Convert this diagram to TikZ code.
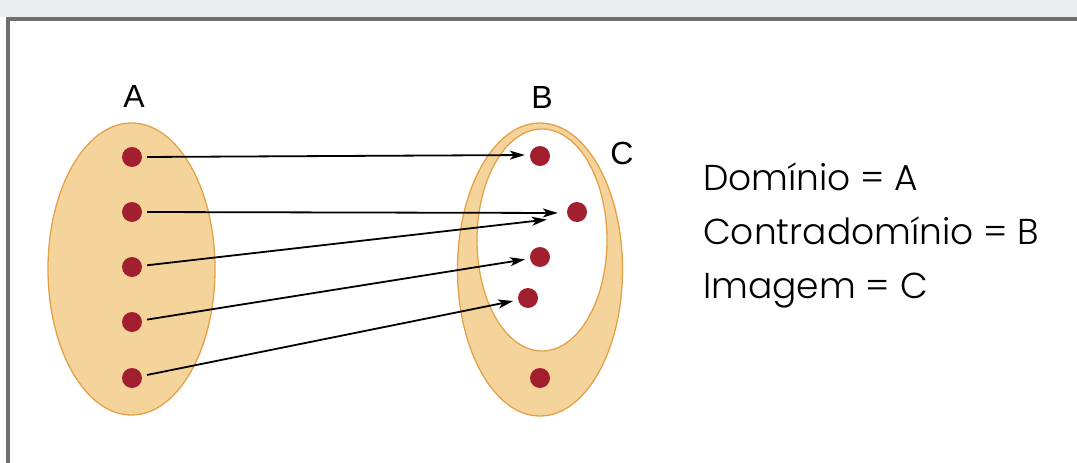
\documentclass[tikz,border=0pt]{standalone}
\usepackage{fontspec}
\setmainfont{Liberation Sans}
\newfontfamily\futura{Poppins Light}
\usetikzlibrary{arrows.meta,shapes.geometric}
\definecolor{setfill}{HTML}{F5D49C}
\definecolor{setline}{HTML}{E3A24A}
\definecolor{dotred}{HTML}{A21F2F}
\definecolor{topgray}{HTML}{ECEDEF}
\definecolor{framegray}{HTML}{6F6F6F}
\begin{document}
\begin{tikzpicture}[x=1pt,y=-1pt,
  setell/.style={ellipse, draw=setline, line width=1.3pt, fill=setfill, inner sep=0pt},
  imgell/.style={ellipse, draw=setline, line width=1.3pt, fill=white, inner sep=0pt},
  dot/.style={circle, fill=dotred, minimum size=20pt, inner sep=0pt},
  arr/.style={-{Stealth[length=15pt,width=9pt,inset=4pt]}, line width=1.8pt, shorten <=5pt, shorten >=5pt},
  lbl/.style={font=\fontsize{32}{38}\selectfont},
  info/.style={font=\futura\fontsize{36}{44}\selectfont, anchor=base west, inner sep=0pt}]
\useasboundingbox (0,0) rectangle (1077,463);
\fill[topgray] (0,0) rectangle (1077,17);
\draw[framegray, line width=4pt] (7.5,463) -- (7.5,19) -- (1077,19);

\node[setell, minimum width=167pt, minimum height=292pt] (setA) at (131.5,269) {};
\node[setell, minimum width=165pt, minimum height=293pt] (setB) at (540,269.5) {};
\node[imgell, minimum width=130pt, minimum height=222pt] (setC) at (542,240) {};

\node[lbl] (labA) at (134,96) {A};
\node[lbl] (labB) at (542,97) {B};
\node[lbl] (labC) at (622,153) {C};

\node[dot] (a1) at (132,157) {};
\node[dot] (a2) at (132,212) {};
\node[dot] (a3) at (132,267) {};
\node[dot] (a4) at (132,322) {};
\node[dot] (a5) at (132,378) {};

\node[dot] (b1) at (540,156) {};
\node[dot] (b2) at (577,212) {};
\node[dot] (b3) at (540,257) {};
\node[dot] (b4) at (528,298) {};
\node[dot] (b5) at (540,378) {};

\draw[arr] (a1.east) -- ([yshift=1pt]b1.west);
\draw[arr, shorten >=9pt] (a2.east) -- ([yshift=-1pt]b2.west);
\draw[arr] (a3) -- ([shift={(-15,7)}]b2.west);
\draw[arr] (a4) -- (b3);
\draw[arr] (a5) -- (b4);

\node[info] (dom) at (703,190) {Domínio = A};
\node[info] (cod) at (703,244) {Contradomínio = B};
\node[info] (img) at (703,298) {Imagem = C};
\end{tikzpicture}
\end{document}
